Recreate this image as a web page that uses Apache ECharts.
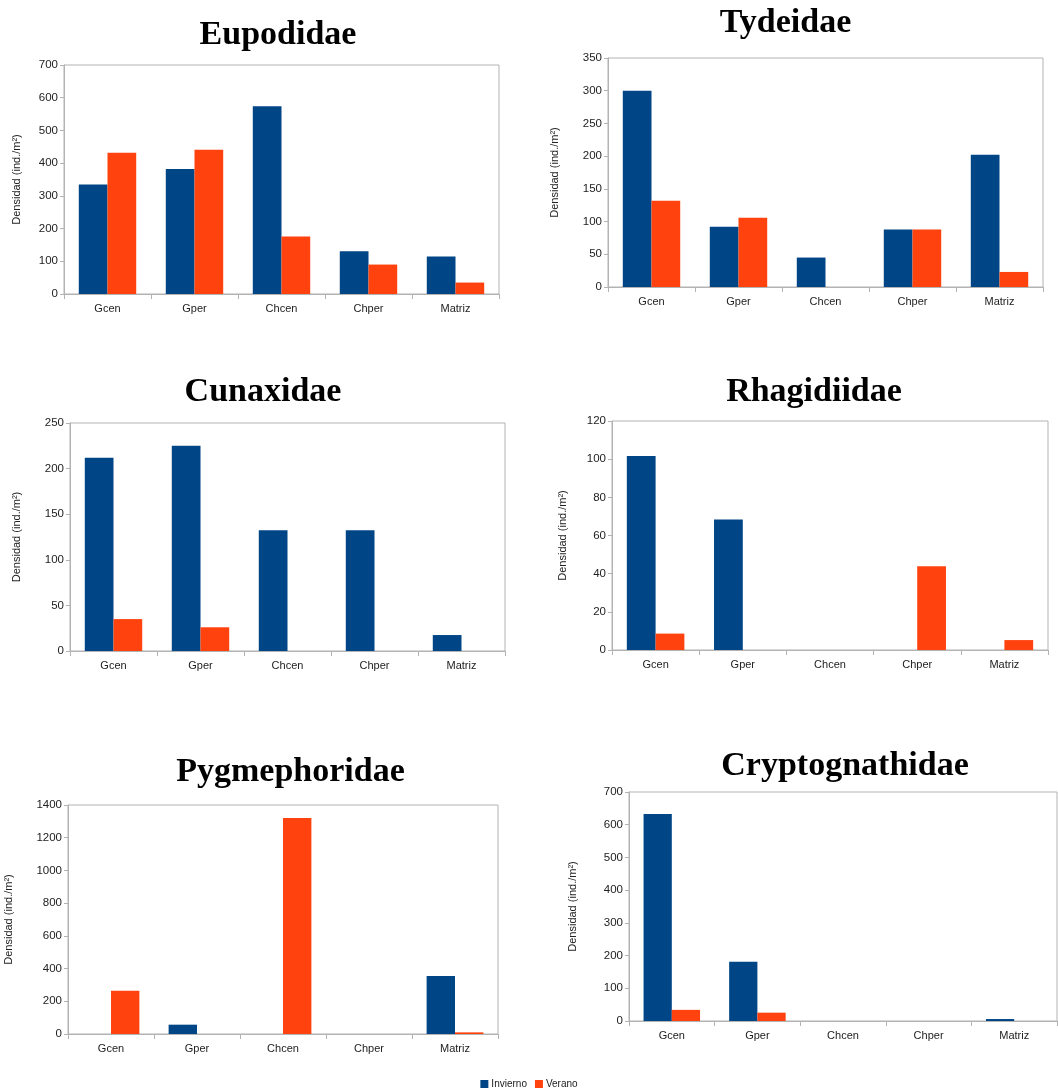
<!DOCTYPE html>
<html>
<head>
<meta charset="utf-8">
<script src="https://cdn.jsdelivr.net/npm/echarts@6/dist/echarts.min.js"></script>
<style>
html,body{margin:0;padding:0;background:#fff;}
#c{width:1058px;height:1090px;}
</style>
</head>
<body>
<div id="c"></div>
<script>
const categories = ['Gcen', 'Gper', 'Chcen', 'Chper', 'Matriz'];
const seriesNames = ['Invierno', 'Verano'];
const titles = ['Eupodidae', 'Tydeidae', 'Cunaxidae', 'Rhagidiidae', 'Pygmephoridae', 'Cryptognathidae'];
const yAxisName = 'Densidad (ind./m²)';

const eupodidaeInvierno = [335, 382, 574, 131, 115];
const eupodidaeVerano = [432, 441, 176, 90, 35];
const tydeidaeInvierno = [300, 92, 45, 88, 202];
const tydeidaeVerano = [132, 106, 0, 88, 23];
const cunaxidaeInvierno = [212, 225, 132.5, 132.5, 17.5];
const cunaxidaeVerano = [35, 26, 0, 0, 0];
const rhagidiidaeInvierno = [101.6, 68.4, 0, 0, 0];
const rhagidiidaeVerano = [8.6, 0, 0, 43.9, 5.2];
const pygmephoridaeInvierno = [0, 57, 0, 0, 355];
const pygmephoridaeVerano = [265, 0, 1320, 0, 10];
const cryptognathidaeInvierno = [633, 181, 0, 0, 6];
const cryptognathidaeVerano = [34, 25.5, 0, 0, 0];

const yMax = [700, 350, 250, 120, 1400, 700];
const yInterval = [100, 50, 50, 20, 200, 100];

const panels = [
  [eupodidaeInvierno, eupodidaeVerano],
  [tydeidaeInvierno, tydeidaeVerano],
  [cunaxidaeInvierno, cunaxidaeVerano],
  [rhagidiidaeInvierno, rhagidiidaeVerano],
  [pygmephoridaeInvierno, pygmephoridaeVerano],
  [cryptognathidaeInvierno, cryptognathidaeVerano]
];

// layout (positions only)
const grids = [
  {left: 64, top: 65, width: 435, height: 229},
  {left: 608, top: 58, width: 435, height: 229},
  {left: 70, top: 423, width: 435, height: 228},
  {left: 612, top: 421, width: 436, height: 229},
  {left: 68, top: 805, width: 430, height: 229},
  {left: 629, top: 792, width: 428, height: 229}
];
const nameGaps = [42, 48, 48, 44, 54, 51];
const titlePos = [[278, 35], [785.5, 23.5], [263, 392], [814, 392], [290.5, 772.5], [845, 766]];
const colors = ['#004586', '#ff420e'];
const axisGray = '#b3b3b3';
const textColor = '#222222';
const sans = '"Liberation Sans", Arial, sans-serif';

const option = {
  animation: false,
  backgroundColor: '#ffffff',
  color: colors,
  legend: {
    data: seriesNames,
    left: 'center',
    top: 1074,
    icon: 'rect',
    itemWidth: 8,
    itemHeight: 8,
    itemGap: 8,
    textStyle: {fontSize: 10, color: textColor, fontFamily: sans, padding: [0, 0, 0, -2]}
  },
  grid: [],
  xAxis: [],
  yAxis: [],
  series: [],
  graphic: []
};

panels.forEach((p, i) => {
  option.grid.push(Object.assign({show: true, borderColor: axisGray, borderWidth: 1, backgroundColor: 'transparent', containLabel: false}, grids[i]));
  option.xAxis.push({
    type: 'category',
    gridIndex: i,
    data: categories,
    boundaryGap: true,
    axisLine: {show: true, lineStyle: {color: axisGray, width: 1}},
    axisTick: {show: true, length: 5, lineStyle: {color: axisGray}},
    axisLabel: {fontSize: 11, color: textColor, fontFamily: sans, margin: 9},
    splitLine: {show: false}
  });
  option.yAxis.push({
    type: 'value',
    gridIndex: i,
    min: 0,
    max: yMax[i],
    interval: yInterval[i],
    name: yAxisName,
    nameLocation: 'middle',
    nameRotate: 90,
    nameGap: nameGaps[i],
    nameTextStyle: {fontSize: 11, color: textColor, fontFamily: sans},
    axisLine: {show: true, lineStyle: {color: axisGray, width: 1}},
    axisTick: {show: true, length: 4, lineStyle: {color: axisGray}},
    axisLabel: {fontSize: 11.5, color: textColor, fontFamily: sans, margin: 6, formatter: v => String(v)},
    splitLine: {show: false}
  });
  p.forEach((vals, s) => {
    option.series.push({
      type: 'bar',
      name: seriesNames[s],
      xAxisIndex: i,
      yAxisIndex: i,
      data: vals,
      barGap: '0%',
      barCategoryGap: '34%',
      itemStyle: {color: colors[s]}
    });
  });
  option.graphic.push({
    type: 'text',
    x: titlePos[i][0],
    y: titlePos[i][1],
    style: {
      text: titles[i],
      fill: '#000',
      font: 'bold 34px "Liberation Serif", "Times New Roman", serif',
      textAlign: 'center',
      textVerticalAlign: 'middle',
      verticalAlign: 'middle'
    }
  });
});

const chart = echarts.init(document.getElementById('c'), null, {renderer: 'canvas'});
chart.setOption(option);
</script>
</body>
</html>
